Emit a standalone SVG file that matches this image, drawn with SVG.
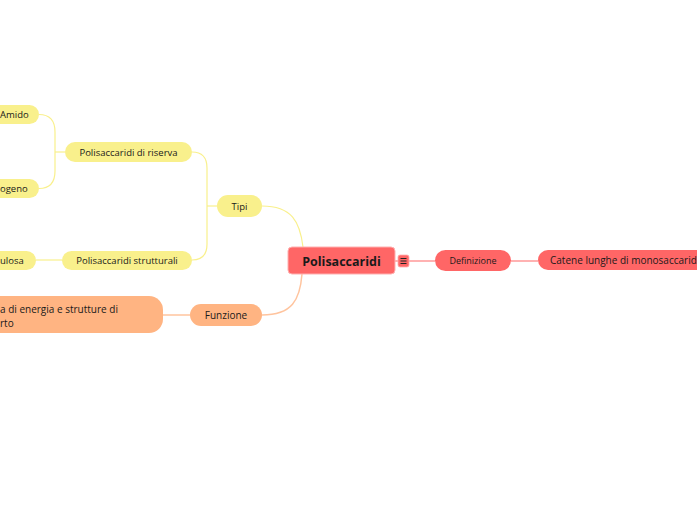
<svg xmlns="http://www.w3.org/2000/svg" width="697" height="520" viewBox="0 0 697 520">
<style>
text{font-family:"Open Sans","Noto Sans","Liberation Sans",sans-serif;fill:#1a1a1a;}
.y{fill:#f9f08c;}
.o{fill:#ffb482;}
.r{fill:#ff6666;}
.s{font-size:9.5px;}
.cy{fill:none;stroke:#f9f08c;stroke-width:1.2;}
.co{fill:none;stroke:#ffc49e;stroke-width:1.5;}
.cr{fill:none;stroke:#ff6666;stroke-width:1.2;}
</style>
<rect width="697" height="520" fill="#ffffff"/>
<g id="connectors">
<path class="cy" d="M39 114.5 Q55 114.5 55 132 L55 171 Q55 188.5 39 188.5"/>
<path class="cy" d="M55 152 L65 152"/>
<path class="cy" d="M192 152 Q207 152 207 168 L207 244 Q207 260 192 260"/>
<path class="cy" d="M207 206 L217 206"/>
<path class="cy" d="M36 260 L62 260"/>
<path class="cy" d="M262 206 C292 206 300 222 303 247"/>
<path class="co" d="M262 315 C292 315 300 300 302 274"/>
<path class="co" d="M163 315 L190 315"/>
<path class="cr" d="M395 261 L398 261 M409 261 L435 261 M511 261 L538 261"/>
</g>
<g id="amido">
<rect class="y" x="-20" y="105" width="59" height="19" rx="9.5"/>
<text class="s" x="0" y="118">Amido</text>
</g>
<g id="glicogeno">
<rect class="y" x="-20" y="179" width="59" height="19" rx="9.5"/>
<text class="s" x="0" y="192">ogeno</text>
</g>
<g id="riserva">
<rect class="y" x="65" y="142" width="127" height="20" rx="10"/>
<text class="s" x="128.5" y="155.5" text-anchor="middle">Polisaccaridi di riserva</text>
</g>
<g id="cellulosa">
<rect class="y" x="-20" y="251" width="56" height="19" rx="9.5"/>
<text class="s" x="0" y="264">ulosa</text>
</g>
<g id="strutturali">
<rect class="y" x="62" y="251" width="130" height="19" rx="9.5"/>
<text class="s" x="127" y="264" text-anchor="middle">Polisaccaridi strutturali</text>
</g>
<g id="tipi">
<rect class="y" x="217" y="195" width="45" height="22" rx="11"/>
<text class="s" x="239.5" y="209.5" text-anchor="middle">Tipi</text>
</g>
<g id="funzione">
<rect class="o" x="190" y="304" width="72" height="22" rx="11"/>
<text x="226" y="318.5" font-size="10" text-anchor="middle">Funzione</text>
</g>
<g id="riserva-energia">
<rect class="o" x="-30" y="296" width="193" height="37" rx="14"/>
<text x="0" y="313" font-size="10">a di energia e strutture di</text>
<text x="0" y="327" font-size="10">rto</text>
</g>
<g id="polisaccaridi">
<rect x="288" y="247" width="107" height="27" rx="4" fill="#ff6666" stroke="#ffb0b0" stroke-width="1"/>
<text x="341.5" y="265.5" font-size="12.5" font-weight="bold" text-anchor="middle">Polisaccaridi</text>
</g>
<g id="menu">
<rect x="398" y="255" width="11" height="12" rx="2" fill="#ff6666" stroke="#ffb0b0" stroke-width="0.8"/>
<path d="M400.5 258.5 H406.5 M400.5 261 H406.5 M400.5 263.5 H406.5" stroke="#222" stroke-width="1"/>
</g>
<g id="definizione">
<rect class="r" x="435" y="250" width="76" height="21" rx="10.5"/>
<text x="473" y="264" font-size="9" text-anchor="middle">Definizione</text>
</g>
<g id="catene">
<rect class="r" x="538" y="250" width="180" height="20" rx="10"/>
<text x="550" y="264" font-size="10">Catene lunghe di monosaccarid</text>
</g>
</svg>
